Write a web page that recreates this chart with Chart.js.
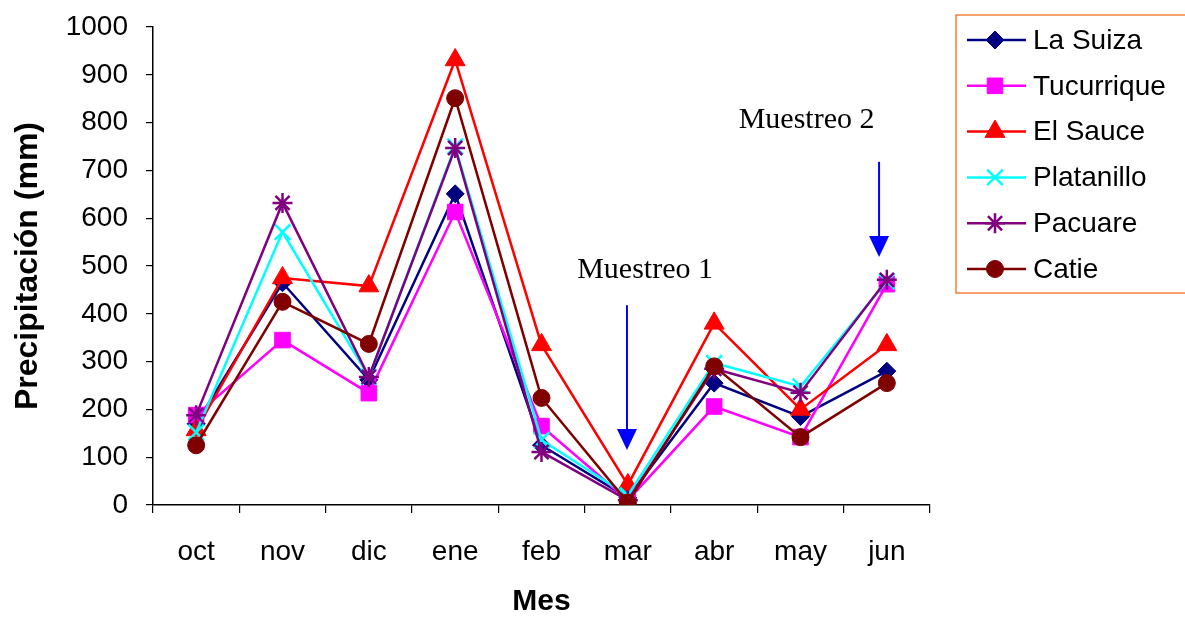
<!DOCTYPE html>
<html>
<head>
<meta charset="utf-8">
<script src="https://cdn.jsdelivr.net/npm/chart.js@4/dist/chart.umd.min.js"></script>
<style>
  html, body { margin: 0; padding: 0; background: #ffffff; }
  canvas { display: block; }
</style>
</head>
<body>
<canvas id="c" width="1185" height="617"></canvas>
<script>
// ---- data ----
const months = ["oct", "nov", "dic", "ene", "feb", "mar", "abr", "may", "jun"];
const laSuiza    = [170, 465, 262, 651, 125, 15, 255, 185, 280];
const tucurrique = [188, 345, 234, 613, 165, 10, 206, 142, 462];
const elSauce    = [157, 475, 458, 931, 335, 42, 380, 200, 335];
const platanillo = [152, 571, 268, 750, 136, 20, 297, 248, 468];
const pacuare    = [188, 632, 268, 747, 111, 10, 285, 235, 471];
const catie      = [125, 425, 337, 851, 224, 5, 290, 142, 255];
const seriesNames = ["La Suiza", "Tucurrique", "El Sauce", "Platanillo", "Pacuare", "Catie"];
const yTicks = [0, 100, 200, 300, 400, 500, 600, 700, 800, 900, 1000];
const xTitle = "Mes";
const yTitle = "Precipitación (mm)";
// annotations: label, x (category index), text baseline value, arrow top value, arrow tip value
const annotations = [
  { label: "Muestreo 1", textX: 5.2, textY: 475, arrowX: 4.99, arrowTop: 418, arrowTip: 115 },
  { label: "Muestreo 2", textX: 7.07, textY: 789, arrowX: 7.91, arrowTop: 718, arrowTip: 519 }
];

// ---- styles ----
const colors = ["#000080", "#FF00FF", "#FF0000", "#00FFFF", "#800080", "#800000"];
const pStyles = ["rectRot", "rect", "triangle", "crossRot", "star", "circle"];
const pRadius = [9, 11, 11.5, 11, 10, 8.5];
const values = [laSuiza, tucurrique, elSauce, platanillo, pacuare, catie];
const SANS = "'Liberation Sans', Arial, sans-serif";
const SERIF = "'Liberation Serif', 'Times New Roman', serif";

const datasets = values.map((v, i) => ({
  label: seriesNames[i],
  data: v,
  borderColor: colors[i],
  backgroundColor: colors[i],
  borderWidth: 2.5,
  pointStyle: pStyles[i],
  pointRadius: pRadius[i],
  pointHoverRadius: pRadius[i],
  pointBorderWidth: (pStyles[i] === "crossRot" || pStyles[i] === "star") ? 2.5 : 1,
  pointBackgroundColor: colors[i],
  pointBorderColor: colors[i],
  tension: 0,
  fill: false,
  order: values.length - 1 - i
}));

const annotationPlugin = {
  id: "annot",
  afterDatasetsDraw(chart) {
    const { ctx } = chart;
    const xs = chart.scales.x, ys = chart.scales.y;
    ctx.save();
    annotations.forEach(a => {
      ctx.font = "30px " + SERIF;
      ctx.fillStyle = "#000";
      ctx.textAlign = "center";
      ctx.textBaseline = "alphabetic";
      ctx.fillText(a.label, xs.getPixelForValue(a.textX), ys.getPixelForValue(a.textY));
      const ax = xs.getPixelForValue(a.arrowX);
      const top = ys.getPixelForValue(a.arrowTop);
      const tip = ys.getPixelForValue(a.arrowTip);
      const headLen = 21, headHalf = 10;
      ctx.strokeStyle = "#0000FF";
      ctx.fillStyle = "#0000FF";
      ctx.lineWidth = 2;
      ctx.beginPath();
      ctx.moveTo(ax, top);
      ctx.lineTo(ax, tip - headLen + 2);
      ctx.stroke();
      ctx.beginPath();
      ctx.moveTo(ax - headHalf, tip - headLen);
      ctx.lineTo(ax + headHalf, tip - headLen);
      ctx.lineTo(ax, tip);
      ctx.closePath();
      ctx.fill();
    });
    ctx.restore();
  }
};

const legendPlugin = {
  id: "customLegend",
  afterDraw(chart) {
    const { ctx } = chart;
    const left = chart.chartArea.right + 26;
    const top = 15, bottom = 293;
    ctx.save();
    ctx.strokeStyle = "#F5813D";
    ctx.lineWidth = 1.5;
    ctx.beginPath();
    ctx.moveTo(chart.width + 2, top);
    ctx.lineTo(left, top);
    ctx.lineTo(left, bottom);
    ctx.lineTo(chart.width + 2, bottom);
    ctx.stroke();
    chart.data.datasets.forEach((ds, i) => {
      const y = 40 + i * 45.8;
      ctx.strokeStyle = ds.borderColor;
      ctx.fillStyle = ds.borderColor;
      ctx.lineWidth = 2.5;
      ctx.beginPath();
      ctx.moveTo(left + 11, y);
      ctx.lineTo(left + 70, y);
      ctx.stroke();
      ctx.lineWidth = ds.pointBorderWidth;
      Chart.helpers.drawPoint(ctx, {
        pointStyle: ds.pointStyle, radius: ds.pointRadius, rotation: 0, borderWidth: ds.pointBorderWidth
      }, left + 39, y);
      ctx.fillStyle = "#000";
      ctx.font = "28px " + SANS;
      ctx.textAlign = "left";
      ctx.textBaseline = "middle";
      ctx.fillText(ds.label, left + 77, y + 1);
    });
    ctx.restore();
  }
};

new Chart(document.getElementById("c"), {
  type: "line",
  data: { labels: months, datasets },
  options: {
    responsive: false,
    animation: false,
    events: [],
    layout: { padding: { top: 27, right: 255, left: 0, bottom: 0 } },
    plugins: { legend: { display: false }, tooltip: { enabled: false } },
    scales: {
      x: {
        type: "category",
        offset: true,
        afterFit(s) { s.height = 112; s.paddingLeft = 0; s.paddingRight = 0; },
        border: { display: true, color: "#000", width: 1.5 },
        grid: { offset: true, drawOnChartArea: false, drawTicks: true, tickLength: 8, color: "#000", lineWidth: 1.2 },
        ticks: { color: "#000", font: { family: SANS, size: 28 }, padding: 22, maxRotation: 0, autoSkip: false },
        title: { display: true, text: xTitle, color: "#000", font: { family: SANS, size: 30, weight: "bold", lineHeight: 1 }, padding: { top: 0, bottom: 0 } }
      },
      y: {
        min: 0, max: 1000,
        afterFit(s) { s.width = 153; s.paddingTop = 0; s.paddingBottom = 0; },
        afterBuildTicks(s) { s.ticks = yTicks.map(v => ({ value: v })); },
        border: { display: true, color: "#000", width: 1.5 },
        grid: { drawOnChartArea: false, drawTicks: true, tickLength: 7, color: "#000", lineWidth: 1.2 },
        ticks: { color: "#000", font: { family: SANS, size: 28 }, padding: 18, callback: v => String(v) },
        title: { display: true, text: yTitle, color: "#000", font: { family: SANS, size: 32, weight: "bold", lineHeight: 1.2 }, padding: { top: 9, bottom: 0 } }
      }
    }
  },
  plugins: [annotationPlugin, legendPlugin]
});
</script>
</body>
</html>
